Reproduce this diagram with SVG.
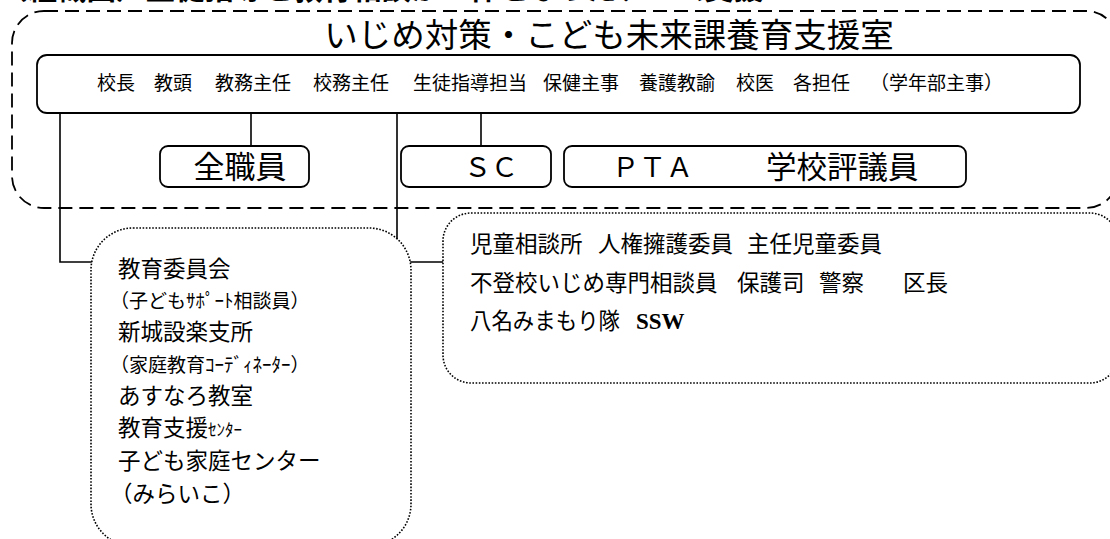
<svg xmlns="http://www.w3.org/2000/svg" width="1110" height="539" viewBox="0 0 1110 539">
<style>
text{font-family:"Noto Sans CJK JP","Noto Sans",sans-serif;fill:#000}
.solid{fill:#fff;stroke:#000;stroke-width:1.8}
.dash{fill:none;stroke:#000;stroke-width:1.8;stroke-dasharray:14 7}
.dot{fill:#fff;stroke:#000;stroke-width:1.6;stroke-dasharray:1.6 1.6}
.conn{fill:none;stroke:#000;stroke-width:1.6}
.staff{font-size:19px}
.ext{font-size:22.5px}
.sub{font-size:19px}
</style>
<rect width="1110" height="539" fill="#fff"/>
<text x="-2" y="-1" font-size="29.5" font-weight="bold">（組織図）生徒指導と教育相談が一体となったチーム支援</text>
<g id="team">
<rect class="dash" x="12" y="11" width="1106" height="197" rx="32"/>
<text x="609" y="47" font-size="33.5" text-anchor="middle">いじめ対策・こども未来課養育支援室</text>
</g>
<g id="connectors">
<path class="conn" d="M60 113V262H92"/>
<path class="conn" d="M251 113V146"/>
<path class="conn" d="M397 113V262H443"/>
<path class="conn" d="M481 113V146"/>
</g>
<g id="staff">
<rect class="solid" x="37" y="55" width="1043" height="58" rx="10"/>
<text class="staff" y="90"><tspan x="97">校長</tspan><tspan x="154">教頭</tspan><tspan x="215">教務主任</tspan><tspan x="313">校務主任</tspan><tspan x="413">生徒指導担当</tspan><tspan x="543">保健主事</tspan><tspan x="639">養護教諭</tspan><tspan x="736">校医</tspan><tspan x="793">各担任</tspan><tspan x="870">（学年部主事）</tspan></text>
</g>
<g id="all-staff">
<rect class="solid" x="160" y="146" width="149" height="41" rx="8"/>
<text x="240" y="178" font-size="31" text-anchor="middle">全職員</text>
</g>
<g id="sc">
<rect class="solid" x="401" y="146" width="150" height="41" rx="8"/>
<text x="491" y="177" font-size="27" text-anchor="middle">ＳＣ</text>
</g>
<g id="pta">
<rect class="solid" x="564" y="146" width="402" height="41" rx="8"/>
<text x="612" y="177" font-size="27">ＰＴＡ</text>
<text x="766" y="178" font-size="30.5">学校評議員</text>
</g>
<g id="external-left">
<rect class="dot" x="91" y="228" width="320" height="318" rx="42"/>
<text class="ext" x="118" y="277">教育委員会</text>
<text class="sub" x="110" y="308">（子どもｻﾎﾟｰﾄ相談員）</text>
<text class="ext" x="118" y="340">新城設楽支所</text>
<text class="sub" x="110" y="372">（家庭教育ｺｰﾃﾞｨﾈｰﾀｰ）</text>
<text class="ext" x="118" y="404">あすなろ教室</text>
<text class="ext" x="118" y="436">教育支援<tspan font-size="17">ｾﾝﾀｰ</tspan></text>
<text class="ext" x="118" y="469">子ども家庭センター</text>
<text class="ext" x="110" y="502">（みらいこ）</text>
</g>
<g id="external-right">
<rect class="dot" x="443" y="213" width="675" height="170" rx="28"/>
<text class="ext" y="252"><tspan x="470">児童相談所</tspan><tspan x="598">人権擁護委員</tspan><tspan x="747">主任児童委員</tspan></text>
<text class="ext" y="291"><tspan x="470">不登校いじめ専門相談員</tspan><tspan x="737">保護司</tspan><tspan x="819">警察</tspan><tspan x="903">区長</tspan></text>
<text class="ext" y="329"><tspan x="470" textLength="150" lengthAdjust="spacingAndGlyphs">八名みまもり隊</tspan><tspan x="636" font-family="Liberation Serif" font-weight="bold" font-size="23">SSW</tspan></text>
</g>
</svg>
